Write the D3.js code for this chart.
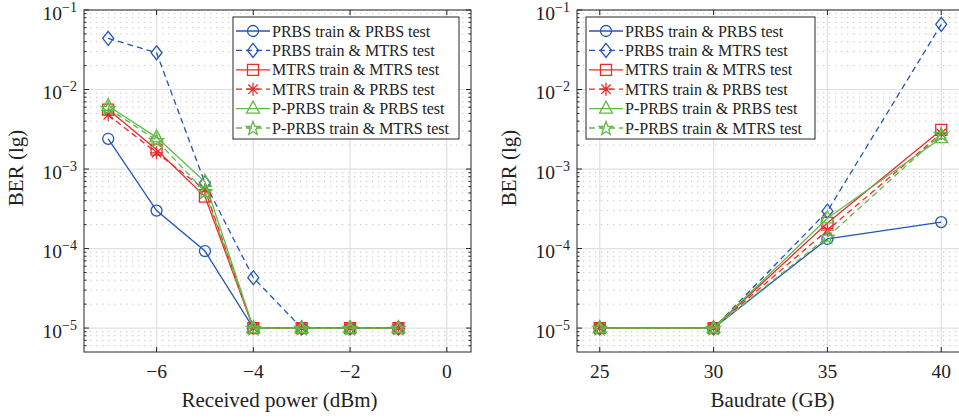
<!DOCTYPE html>
<html><head><meta charset="utf-8">
<script src="https://cdn.jsdelivr.net/npm/d3@7"></script>
<style>body{margin:0;background:#fff}svg{display:block}text{font-family:"Liberation Serif","Times New Roman",serif;fill:#222}</style>
</head><body><svg id="c" width="959" height="419"></svg>
<script>
// ---- data ----
const powerX = [-7, -6, -5, -4, -3, -2, -1];
const baudX = [25, 30, 35, 40];
const seriesNames = ["PRBS train & PRBS test","PRBS train & MTRS test","MTRS train & MTRS test","MTRS train & PRBS test","P-PRBS train & PRBS test","P-PRBS train & MTRS test"];
const seriesColors = ["#2357b3","#2357b3","#ec2a2a","#ec2a2a","#62ba45","#62ba45"];
const seriesDash = [false,true,false,true,false,true];
const seriesMarker = ["circle","diamond","square","asterisk","triangle","pentagram"];
const powerPRBS_PRBS  = [2.4e-3, 3.0e-4, 9.3e-5, 1e-5, 1e-5, 1e-5, 1e-5];
const powerPRBS_MTRS  = [4.4e-2, 2.9e-2, 6.7e-4, 4.3e-5, 1e-5, 1e-5, 1e-5];
const powerMTRS_MTRS  = [5.6e-3, 1.75e-3, 4.5e-4, 1e-5, 1e-5, 1e-5, 1e-5];
const powerMTRS_PRBS  = [4.8e-3, 1.6e-3, 5.5e-4, 1e-5, 1e-5, 1e-5, 1e-5];
const powerPPRBS_PRBS = [6.2e-3, 2.5e-3, 6.9e-4, 1e-5, 1e-5, 1e-5, 1e-5];
const powerPPRBS_MTRS = [5.8e-3, 2.3e-3, 5.2e-4, 1e-5, 1e-5, 1e-5, 1e-5];
const baudPRBS_PRBS  = [1e-5, 1e-5, 1.32e-4, 2.15e-4];
const baudPRBS_MTRS  = [1e-5, 1e-5, 2.95e-4, 6.6e-2];
const baudMTRS_MTRS  = [1e-5, 1e-5, 2.1e-4, 3.1e-3];
const baudMTRS_PRBS  = [1e-5, 1e-5, 1.7e-4, 2.8e-3];
const baudPPRBS_PRBS = [1e-5, 1e-5, 2.4e-4, 2.45e-3];
const baudPPRBS_MTRS = [1e-5, 1e-5, 1.4e-4, 2.75e-3];
const powerTicks = [-6, -4, -2, 0];
const baudTicks = [25, 30, 35, 40];
const yTickExp = [-1, -2, -3, -4, -5];

const svg = d3.select("#c");
const fmtMinus = v => String(v).replace("-", "\u2212");

function markerPath(type){
  const p = d3.path();
  if(type==="circle"){ p.arc(0,0,5.5,0,2*Math.PI); p.closePath(); }
  else if(type==="diamond"){ p.moveTo(0,-7); p.lineTo(5.5,0); p.lineTo(0,7); p.lineTo(-5.5,0); p.closePath(); }
  else if(type==="square"){ p.rect(-5.5,-5.5,11,11); }
  else if(type==="asterisk"){ const r=6.5, d=r*0.72; p.moveTo(-r,0);p.lineTo(r,0);p.moveTo(0,-r);p.lineTo(0,r);p.moveTo(-d,-d);p.lineTo(d,d);p.moveTo(-d,d);p.lineTo(d,-d); }
  else if(type==="triangle"){ p.moveTo(0,-7.5); p.lineTo(6.5,4.5); p.lineTo(-6.5,4.5); p.closePath(); }
  else if(type==="pentagram"){ const R=7.2, r=2.9; for(let i=0;i<10;i++){ const a=-Math.PI/2+i*Math.PI/5, rr=i%2?r:R; const x=rr*Math.cos(a), y=rr*Math.sin(a)+0.6; i?p.lineTo(x,y):p.moveTo(x,y);} p.closePath(); }
  return p.toString();
}

function panel(cfg){
  const {x0,width,xDomain,xTicks,xs,ys,xlabel,legend} = cfg;
  const top=10, bottom=352;
  const x = d3.scaleLinear().domain(xDomain).range([x0, x0+width]);
  const y = d3.scaleLog().domain([5e-6, 1e-1]).range([bottom, top]);
  const g = svg.append("g");
  const clipId = "clip"+x0;
  svg.append("clipPath").attr("id",clipId).append("rect").attr("x",x0).attr("y",top).attr("width",width).attr("height",bottom-top);
  // minor grid
  const minors=[];
  for(let e=-6;e<=-2;e++) for(let m=2;m<=9;m++){ const v=m*Math.pow(10,e); if(v>5e-6 && v<1e-1) minors.push(v);}
  g.append("g").selectAll("line").data(minors).join("line")
    .attr("x1",x0).attr("x2",x0+width).attr("y1",d=>y(d)).attr("y2",d=>y(d))
    .attr("stroke","#c4c4c4").attr("stroke-width",1).attr("stroke-dasharray","1.3,4.7").attr("clip-path",`url(#${clipId})`);
  // major grid
  const majors = yTickExp.map(e=>Math.pow(10,e));
  g.append("g").selectAll("line").data(majors).join("line")
    .attr("x1",x0).attr("x2",x0+width).attr("y1",d=>y(d)).attr("y2",d=>y(d))
    .attr("stroke","#e0e0e0").attr("stroke-width",1.2);
  g.append("g").selectAll("line").data(xTicks).join("line")
    .attr("x1",d=>x(d)).attr("x2",d=>x(d)).attr("y1",top).attr("y2",bottom)
    .attr("stroke","#e0e0e0").attr("stroke-width",1.2);
  // axes (ticks inward)
  const axC="#262626";
  const ax = g.append("g");
  ax.append("rect").attr("x",x0).attr("y",top).attr("width",width).attr("height",bottom-top).attr("fill","none").attr("stroke",axC).attr("stroke-width",1);
  xTicks.forEach(t=>{
    ax.append("line").attr("x1",x(t)).attr("x2",x(t)).attr("y1",bottom).attr("y2",bottom-5).attr("stroke",axC);
    ax.append("line").attr("x1",x(t)).attr("x2",x(t)).attr("y1",top).attr("y2",top+5).attr("stroke",axC);
  });
  majors.forEach(v=>{
    ax.append("line").attr("x1",x0).attr("x2",x0+5).attr("y1",y(v)).attr("y2",y(v)).attr("stroke",axC);
    ax.append("line").attr("x1",x0+width).attr("x2",x0+width-5).attr("y1",y(v)).attr("y2",y(v)).attr("stroke",axC);
  });
  minors.forEach(v=>{
    ax.append("line").attr("x1",x0).attr("x2",x0+2.5).attr("y1",y(v)).attr("y2",y(v)).attr("stroke",axC);
    ax.append("line").attr("x1",x0+width).attr("x2",x0+width-2.5).attr("y1",y(v)).attr("y2",y(v)).attr("stroke",axC);
  });
  // tick labels
  xTicks.forEach(t=>{
    g.append("text").attr("x",x(t)).attr("y",378).attr("text-anchor","middle").attr("font-size",19.5).text(fmtMinus(t));
  });
  yTickExp.forEach(e=>{
    const t = g.append("text").attr("x",x0-7).attr("y",y(Math.pow(10,e))+9.5).attr("text-anchor","end").attr("font-size",19.5);
    t.append("tspan").text("10");
    t.append("tspan").attr("dy",-8).attr("font-size",14).text("\u2212"+Math.abs(e));
  });
  // axis labels
  g.append("text").attr("x",x0+width/2+2).attr("y",407).attr("text-anchor","middle").attr("font-size",21).text(xlabel);
  g.append("text").attr("transform",`translate(${x0-61},168) rotate(-90)`).attr("text-anchor","middle").attr("font-size",21).text("BER (lg)");
  // series
  const line = d3.line().x(d=>x(d[0])).y(d=>y(d[1]));
  const plot = g.append("g").attr("clip-path",`url(#${clipId})`);
  ys.forEach((vals,i)=>{
    const pts = xs.map((xv,j)=>[xv,vals[j]]);
    plot.append("path").attr("d",line(pts)).attr("fill","none").attr("stroke",seriesColors[i]).attr("stroke-width",1.3)
      .attr("stroke-dasharray",seriesDash[i]?"6,4":null);
    plot.append("g").selectAll("path").data(pts).join("path")
      .attr("transform",d=>`translate(${x(d[0])},${y(d[1])})`).attr("d",markerPath(seriesMarker[i]))
      .attr("fill","none").attr("stroke",seriesColors[i]).attr("stroke-width",1.3);
  });
  // legend
  const L = legend;
  const lg = g.append("g");
  lg.append("rect").attr("x",L.x).attr("y",17).attr("width",L.w).attr("height",122).attr("fill","#fff").attr("stroke",axC).attr("stroke-width",1);
  seriesNames.forEach((n,i)=>{
    const cy = 31 + i*19.4;
    lg.append("line").attr("x1",L.x+3).attr("x2",L.x+37).attr("y1",cy).attr("y2",cy).attr("stroke",seriesColors[i]).attr("stroke-width",1.3)
      .attr("stroke-dasharray",seriesDash[i]?"6,4":null);
    lg.append("path").attr("transform",`translate(${L.x+20},${cy})`).attr("d",markerPath(seriesMarker[i])).attr("fill","none").attr("stroke",seriesColors[i]).attr("stroke-width",1.3);
    lg.append("text").attr("x",L.x+39).attr("y",cy+5.5).attr("font-size",16).text(n);
  });
}

panel({x0:84,width:387,xDomain:[-7.5,0.5],xTicks:powerTicks,xs:powerX,
  ys:[powerPRBS_PRBS,powerPRBS_MTRS,powerMTRS_MTRS,powerMTRS_PRBS,powerPPRBS_PRBS,powerPPRBS_MTRS],
  xlabel:"Received power (dBm)",legend:{x:233,w:226}});
panel({x0:577,width:387,xDomain:[24,41],xTicks:baudTicks,xs:baudX,
  ys:[baudPRBS_PRBS,baudPRBS_MTRS,baudMTRS_MTRS,baudMTRS_PRBS,baudPPRBS_PRBS,baudPPRBS_MTRS],
  xlabel:"Baudrate (GB)",legend:{x:586,w:229}});
</script></body></html>
